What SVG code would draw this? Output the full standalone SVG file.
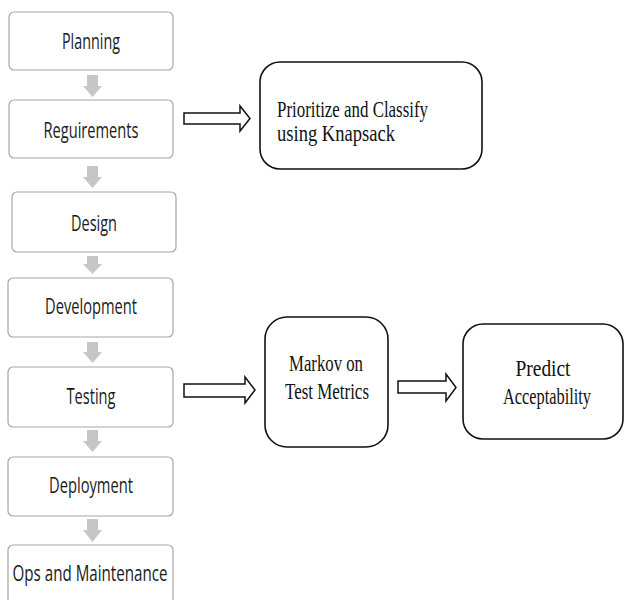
<svg xmlns="http://www.w3.org/2000/svg" width="625" height="600" viewBox="0 0 625 600">
<style>
.step rect{fill:#fff;stroke:#a6a6a6;stroke-width:1.2}
.step text{font-family:"Open Sans","Liberation Sans",sans-serif;font-size:21px;fill:#1a1a1a;text-anchor:middle}
.box rect{fill:#fff;stroke:#111;stroke-width:1.6}
.box text{font-family:"Liberation Serif","Times New Roman",serif;font-size:23px;fill:#111}
.down{fill:#c6c6c6}
.block{fill:#fff;stroke:#111;stroke-width:1.5;stroke-linejoin:miter}
</style>
<rect width="625" height="600" fill="#fff"/>
<g id="planning" class="step"><rect x="9" y="12" width="164" height="58" rx="5"/><text x="91" y="49" textLength="58" lengthAdjust="spacingAndGlyphs">Planning</text></g>
<g id="requirements" class="step"><rect x="9" y="100" width="164" height="58" rx="5"/><text x="91" y="138" textLength="95" lengthAdjust="spacingAndGlyphs">Reguirements</text></g>
<g id="design" class="step"><rect x="12" y="192" width="164" height="60" rx="5"/><text x="94" y="231" textLength="46" lengthAdjust="spacingAndGlyphs">Design</text></g>
<g id="development" class="step"><rect x="8" y="278" width="165" height="59" rx="5"/><text x="91" y="314" textLength="92" lengthAdjust="spacingAndGlyphs">Development</text></g>
<g id="testing" class="step"><rect x="8" y="367" width="165" height="60" rx="5"/><text x="91" y="404" textLength="49" lengthAdjust="spacingAndGlyphs">Testing</text></g>
<g id="deployment" class="step"><rect x="8" y="457" width="165" height="59" rx="5"/><text x="91" y="493" textLength="84" lengthAdjust="spacingAndGlyphs">Deployment</text></g>
<g id="ops" class="step"><rect x="8" y="545" width="165" height="70" rx="5"/><text x="90" y="581" textLength="155" lengthAdjust="spacingAndGlyphs">Ops and Maintenance</text></g>
<g id="prioritize" class="box"><rect x="260" y="62" width="222" height="107" rx="20"/><text x="277" y="117" textLength="151" lengthAdjust="spacingAndGlyphs">Prioritize and Classify</text><text x="277" y="141" textLength="118" lengthAdjust="spacingAndGlyphs">using Knapsack</text></g>
<g id="markov" class="box"><rect x="265" y="317" width="123" height="130" rx="22"/><text x="326" y="371" text-anchor="middle" textLength="74" lengthAdjust="spacingAndGlyphs">Markov on</text><text x="327" y="399" text-anchor="middle" textLength="84" lengthAdjust="spacingAndGlyphs">Test Metrics</text></g>
<g id="predict" class="box"><rect x="463" y="324" width="160" height="115" rx="20"/><text x="543" y="376" text-anchor="middle" textLength="55" lengthAdjust="spacingAndGlyphs">Predict</text><text x="547" y="404" text-anchor="middle" textLength="88" lengthAdjust="spacingAndGlyphs">Acceptability</text></g>
<g id="connectors">
<path class="down" d="M87 75H98V86H102L92.5 97L83 86H87Z"/>
<path class="down" d="M87 166H98V177H102L92.5 188L83 177H87Z"/>
<path class="down" d="M87 256H98V264H102L92.5 274L83 264H87Z"/>
<path class="down" d="M87 342H98V352H102L92.5 363L83 352H87Z"/>
<path class="down" d="M87 430H98V441H102L92.5 452L83 441H87Z"/>
<path class="down" d="M87 519H98V530H102L92.5 542L83 530H87Z"/>
<path class="block" d="M184 113H240V106L250 118.5L240 131V124H184Z"/>
<path class="block" d="M184 384H245V377L255 390L245 403V397H184Z"/>
<path class="block" d="M398 381H446V374L456 387.5L446 401V393H398Z"/>
</g>
</svg>
